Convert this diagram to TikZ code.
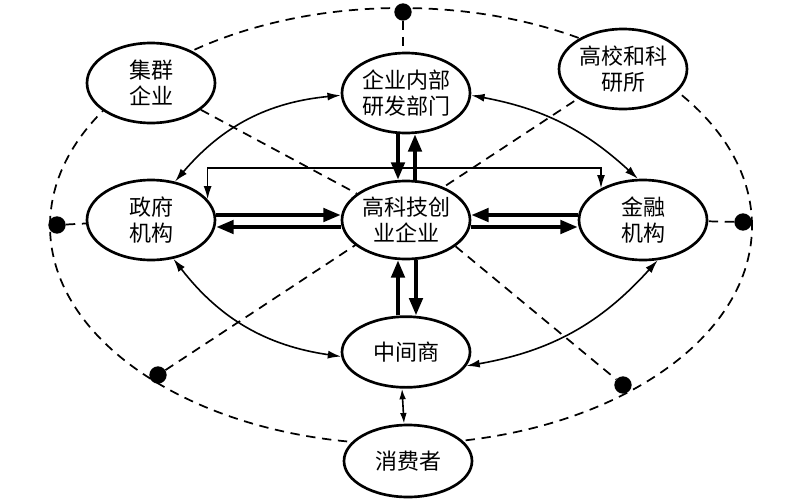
\documentclass[tikz,border=0pt]{standalone}
\usepackage{fontspec}
\newfontfamily\cjk{Noto Sans CJK SC}
\usetikzlibrary{arrows.meta,calc,backgrounds,shapes.geometric}
\begin{document}
\begin{tikzpicture}[x=0.75pt,y=-0.75pt,
  ent/.style={draw,ellipse,line width=2pt,fill=white,minimum width=96pt,minimum height=60pt,inner sep=0pt,align=center,font=\cjk\fontsize{16.5pt}{19.5pt}\selectfont},
  dotn/.style={circle,fill=black,minimum size=13pt,inner sep=0pt},
  dashln/.style={line width=1.3pt,dash pattern=on 7pt off 5pt},
  bigarr/.style={line width=2.8pt,-{Triangle[length=13pt,width=10pt]}},
  thinarr/.style={line width=1.2pt,{Latex[length=10pt,width=6pt]}-{Latex[length=10pt,width=6pt]}},
  smallarr/.style={line width=1.2pt,{Latex[length=8pt,width=5pt]}-{Latex[length=8pt,width=5pt]}}
]
\useasboundingbox (0,0) rectangle (803,500);

% nodes
\node[ent] (jq) at (151,83) {集群\\企业};
\node[ent] (qy) at (406,93) {企业内部\\研发部门};
\node[ent] (gx) at (623,69) {高校和科\\研所};
\node[ent] (zf) at (151,220) {政府\\机构};
\node[ent,minimum height=58.5pt] (gk) at (406,220) {高科技创\\业企业};
\node[ent] (jr) at (643,220) {金融\\机构};
\node[ent,minimum height=53pt] (zj) at (406,352) {中间商};
\node[ent,minimum height=54pt] (xf) at (408,461) {消费者};

% dots
\node[dotn] (d1) at (403,12) {};
\node[dotn] (d2) at (57,225) {};
\node[dotn] (d3) at (743,222) {};
\node[dotn] (d4) at (158,375) {};
\node[dotn] (d5) at (623,385) {};

\begin{pgfonlayer}{background}
\draw[dashln] (401,226) ellipse [x radius=263.25pt, y radius=163.5pt];
\draw[dashln] (d1) -- (qy.north -| d1);
\draw[dashln] (d2) -- (zf);
\draw[dashln] (d3) -- (jr);
\draw[dashln] (d4) -- (gx);
\draw[dashln] (jq) -- (gk);
\draw[dashln] (gk.-28) -- (d5);
\end{pgfonlayer}

% bracket connector
\coordinate (bar) at (400,168);
\draw[thinarr] (zf.20) |- (bar) -| (jr.143);

% thick arrows
\draw[bigarr] ($(zf.east)+(0,-5)$) -- ($(gk.west)+(0,-5)$);
\draw[bigarr] ($(gk.west)+(0,7)$) -- ($(zf.east)+(0,7)$);
\draw[bigarr] ($(jr.west)+(0,-5)$) -- ($(gk.east)+(0,-5)$);
\draw[bigarr] ($(gk.east)+(0,7)$) -- ($(jr.west)+(0,7)$);
\draw[bigarr] ($(qy.south)+(-8,0)$) -- ($(gk.north)+(-8,0)$);
\draw[bigarr] ($(gk.north)+(9,0)$) -- ($(qy.south)+(9,0)$);
\draw[bigarr] ($(zj.north)+(-8,0)$) -- ($(gk.south)+(-8,0)$);
\draw[bigarr] ($(gk.south)+(10,0)$) -- ($(zj.north)+(10,0)$);

% curved arrows
\draw[thinarr] (qy.182) to[bend right=22] (zf.58);
\draw[thinarr] (qy.-2) to[bend left=16] (jr.97);
\draw[thinarr] (zf.-60) to[bend right=22] (zj.184);
\draw[thinarr] (zj.-13) to[bend right=19] (jr.-70);

% consumer link
\draw[smallarr] ($(zj.south)+(-4,0)$) -- ($(xf.north)+(-4,0)$);
\end{tikzpicture}
\end{document}
